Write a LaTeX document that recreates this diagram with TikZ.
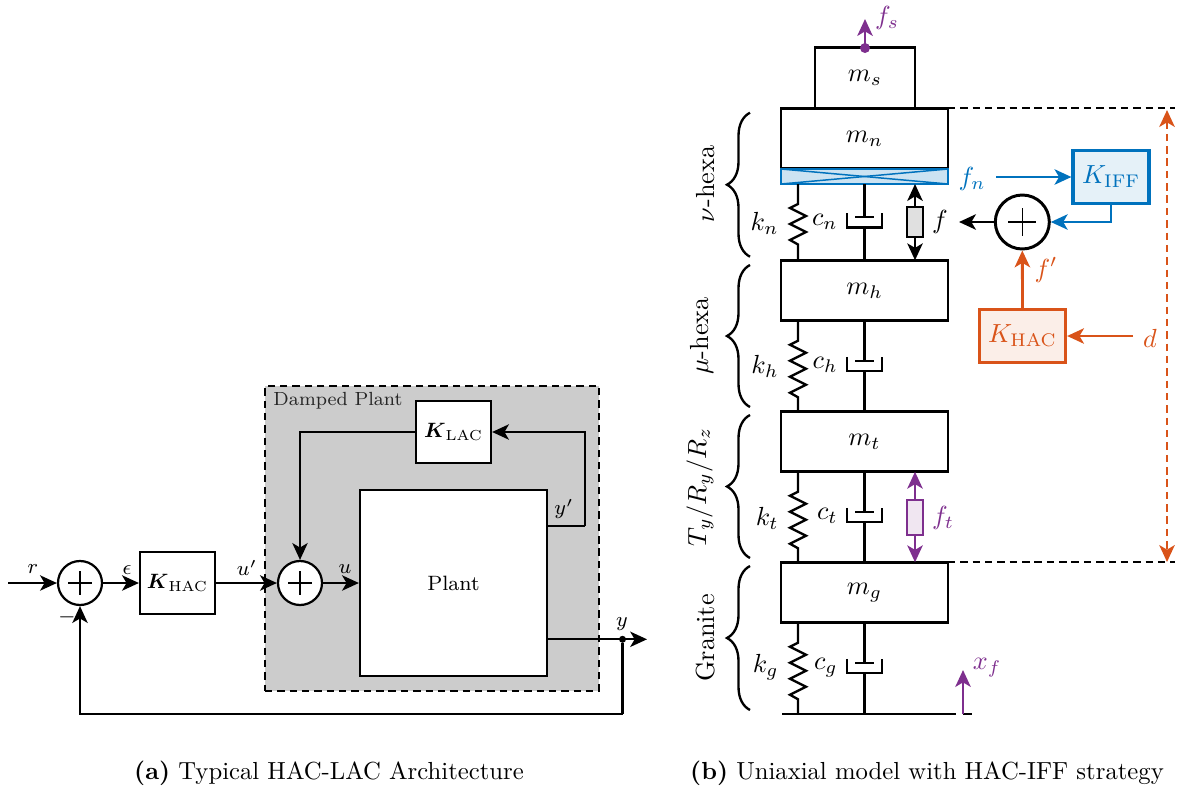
\documentclass[tikz,border=0pt]{standalone}
\usepackage{fix-cm}
\usepackage{amsmath}
\usepackage{amssymb}
\usepackage{xcolor}
\usepackage{tikz}
\usetikzlibrary{positioning,arrows.meta,decorations.pathreplacing}
\definecolor{mblue}{HTML}{0072BD}
\definecolor{morange}{HTML}{D95319}
\definecolor{mpurple}{HTML}{7E2F8E}
\newcommand{\px}{0.405pt}
\newcommand{\petit}{\fontsize{8.4}{10}\selectfont}
\newcommand{\grand}{\fontsize{10.6}{13}\selectfont}
% haut, bas, longueur droite, nombre de dents
\newcommand{\ressort}[4]{\draw[lien] (#1) -- ++(0,#3) -- ++(-8,4)
  \foreach \i in {1,...,#4} { -- ++(16,8) -- ++(-16,8) } -- ++(8,4.5) -- (#2);}
% haut, bas, position du piston
\newcommand{\amortisseur}[3]{
  \draw[lien] (#1) -- ++(0,#3) ++(-9.5,0) -- ++(19,0);
  \draw[lien] (#1) ++(-17.5,#3-4) -- ++(0,14.5) -- ++(35,0) -- ++(0,-14.5);
  \draw[lien] (#1) ++(0,#3+10.5) -- (#2);}
\begin{document}
\begin{tikzpicture}[x=\px,y=-\px]
  \tikzset{
    boite/.style={draw,fill=white,line width=0.9pt,inner sep=0pt,font=\petit},
    masse/.style={draw,fill=white,line width=1.2pt,inner sep=0pt,outer sep=0pt,
      minimum width=167*\px,minimum height=60.5*\px,font=\grand},
    regul/.style={draw=#1,fill=#1!10,line width=1.3pt,inner sep=0pt,text=#1,font=\grand},
    somme/.style={circle,draw,fill=white,inner sep=0pt,
      path picture={
        \draw[line width=0.5pt,shorten >=#1,shorten <=#1]
          (path picture bounding box.west) -- (path picture bounding box.east);
        \draw[line width=0.5pt,shorten >=#1,shorten <=#1]
          (path picture bounding box.north) -- (path picture bounding box.south);
      }},
    verin/.style={draw=#1,line width=1.15pt,inner sep=0pt,
      minimum width=16*\px},
    fleche/.style={-{Stealth[length=6.8pt,width=6.2pt,inset=1.8pt]},line width=0.9pt},
    fleche forte/.style={fleche,line width=1.15pt},
    double forte/.style={{Stealth[length=6.8pt,width=6.2pt,inset=1.8pt]}-{Stealth[length=6.8pt,width=6.2pt,inset=1.8pt]},line width=1.15pt},
    lien/.style={line width=0.95pt},
    tirets/.style={line width=1pt,dash pattern=on 3pt off 2pt},
    accolade/.style={line width=0.95pt,decorate,decoration={brace,amplitude=23*\px}},
    lbl/.style={font=\petit,inner sep=0pt},
    lbd/.style={font=\grand,inner sep=0pt},
    titre/.style={font=\fontsize{10}{12}\selectfont,inner sep=0pt},
  }
  \useasboundingbox (0,0) rectangle (1177,789);

  % HAC-LAC
  \node[draw,fill=black!20,tirets,minimum width=334*\px,minimum height=305*\px,inner sep=0pt] (damped) at (432,538.5) {};
  \node[font=\fontsize{7.7}{9}\selectfont,inner sep=0pt,anchor=west,text=black!85] (dampedlabel) at (273,401) {Damped Plant};
  \node[boite,somme=10*\px,minimum size=44*\px] (s1) at (80,583) {};
  \node[boite,minimum width=75*\px,minimum height=62*\px] (khac) at (177.5,583) {$\boldsymbol{K}_{\text{HAC}}$};
  \node[boite,somme=10*\px,minimum size=44*\px] (s2) at (300,583) {};
  \node[boite,minimum width=187*\px,minimum height=186*\px] (plant) at (453.5,583) {Plant};
  \node[boite,minimum width=75*\px,minimum height=62*\px] (klac) at (453.5,432) {$\boldsymbol{K}_{\text{LAC}}$};
  \node[circle,fill=black,inner sep=0pt,minimum size=7*\px] (jonction) at (622.5,639.3) {};
  \coordinate (entree) at (8,583);
  \coordinate (sortie) at (647,639.3);
  \coordinate (yprime) at (547,526);
  \coordinate (coude) at (585,526);
  \coordinate (retour) at (622.5,714);
  \draw[fleche] (entree) -- (s1.west);
  \draw[fleche] (s1.east) -- (khac.west);
  \draw[fleche] (khac.east) -- (s2.west);
  \draw[fleche] (s2.east) -- (plant.west);
  \draw[lien] (yprime) -- (coude);
  \draw[fleche] (coude) |- (klac.east);
  \draw[fleche] (klac.west) -| (s2.north);
  \draw[fleche] (plant.east |- sortie) -- (sortie);
  \draw[lien] (jonction) -- (retour);
  \draw[fleche] (retour) -| (s1.south);
  \node[lbl] (lr) at (33,569) {$r$};
  \node[lbl] (le) at (127,570) {$\epsilon$};
  \node[lbl] (lup) at (247,568) {$u'$};
  \node[lbl] (lu) at (345,569) {$u$};
  \node[lbl] (lyp) at (564,509) {$y'$};
  \node[lbl] (ly) at (622,624) {$y$};
  \node[lbl] (lm) at (67,617) {$-$};

  % masses
  \node[masse] (mn) at (864.5,138.5) {$m_n$};
  \node[masse,minimum width=100*\px] (ms) at (865,78) {$m_s$};
  \node[draw=mblue,fill=mblue!20,line width=1.2pt,inner sep=0pt,outer sep=0pt,minimum width=167*\px,minimum height=15*\px] (capteur) at (864.5,176.5) {};
  \draw[mblue,line width=0.6pt] (capteur.north west) -- (capteur.south east);
  \draw[mblue,line width=0.6pt] (capteur.south west) -- (capteur.north east);
  \node[masse] (mh) at (864.5,290.5) {$m_h$};
  \node[masse] (mt) at (864.5,441.5) {$m_t$};
  \node[masse] (mg) at (864.5,592.5) {$m_g$};
  \coordinate (kx) at (798,0);
  \coordinate (ax) at (915,0);
  \coordinate (solg) at (782,714);
  \coordinate (sold) at (956,714);
  \coordinate (solb) at (963,714);
  \coordinate (sole) at (972,714);
  \draw[line width=1.15pt] (solg) -- (sold);
  \draw[line width=1.15pt] (solb) -- (sole);

  \ressort{kx |- capteur.south}{kx |- mh.north}{20}{2}
  \ressort{kx |- mh.south}{kx |- mt.north}{20}{3}
  \ressort{kx |- mt.south}{kx |- mg.north}{20}{3}
  \ressort{kx |- mg.south}{kx |- solg}{20}{3}
  \amortisseur{capteur.south}{mh.north}{33}
  \amortisseur{mh.south}{mt.north}{40}
  \amortisseur{mt.south}{mg.north}{40}
  \amortisseur{mg.south}{mg.south |- solg}{40}

  \node[lbd,anchor=east] (kn) at (779,223) {$k_n$};
  \node[lbd,anchor=east] (cn) at (838,222) {$c_n$};
  \node[lbd,anchor=east] (kh) at (779,366) {$k_h$};
  \node[lbd,anchor=east] (ch) at (838,365) {$c_h$};
  \node[lbd,anchor=east] (kt) at (779,518) {$k_t$};
  \node[lbd,anchor=east] (ct) at (838,516) {$c_t$};
  \node[lbd,anchor=east] (kg) at (779,667) {$k_g$};
  \node[lbd,anchor=east] (cg) at (838,668) {$c_g$};

  % verins
  \node[verin=black,fill=black!12,minimum height=30*\px] (vf) at (915,222) {};
  \draw[fleche forte] (vf.north) -- (ax |- capteur.south);
  \draw[fleche forte] (vf.south) -- (ax |- mh.north);
  \node[verin=mpurple,fill=mpurple!12,minimum height=35*\px] (vt) at (915,517.5) {};
  \draw[fleche forte,mpurple] (vt.north) -- (ax |- mt.south);
  \draw[fleche forte,mpurple] (vt.south) -- (ax |- mg.north);
  \node[lbd] (lf) at (940,222) {$f$};
  \node[lbd,text=mpurple] (lft) at (943,518) {$f_t$};

  \node[circle,fill=mpurple,inner sep=0pt,minimum size=10*\px] (ps) at (865,48) {};
  \coordinate (fshaut) at (865,19);
  \draw[fleche forte,mpurple] (ps.center) -- (fshaut);
  \node[lbd,text=mpurple] (lfs) at (887,18) {$f_s$};
  \coordinate (xfhaut) at (963,670);
  \draw[fleche forte,mpurple] (solb) -- (xfhaut);
  \node[lbd,text=mpurple] (lxf) at (987,668) {$x_f$};

  % IFF et HAC
  \node[regul=mblue,minimum width=76*\px,minimum height=53*\px] (kiff) at (1111,177) {$K_{\text{IFF}}$};
  \node[somme=13*\px,fill=white,line width=1.2pt,minimum size=54*\px] (s3) at (1022.3,222) {};
  \node[regul=morange,minimum width=86*\px,minimum height=53*\px] (khac2) at (1022.5,336) {$K_{\text{HAC}}$};
  \node[lbd,text=mblue] (lfn) at (972,179) {$f_n$};
  \node[lbd,text=morange] (lfp) at (1046,270) {$f'$};
  \node[lbd,text=morange] (ld) at (1150,338) {$d$};
  \coordinate (fndebut) at (996,177);
  \coordinate (fsortie) at (959,222);
  \coordinate (ddebut) at (1133,336);
  \draw[fleche forte,mblue] (fndebut) -- (kiff.west);
  \draw[fleche forte,mblue] (kiff.south) |- (s3.east);
  \draw[fleche forte] (s3.west) -- (fsortie);
  \draw[fleche forte,morange] (khac2.north) -- (s3.south);
  \draw[fleche forte,morange] (ddebut) -- (khac2.east);

  \coordinate (dx) at (1175,0);
  \coordinate (dvh) at (1167,110);
  \coordinate (dvb) at (1167,562);
  \draw[tirets] (mn.north east) -- (mn.north east -| dx);
  \draw[tirets] (mg.north east) -- (mg.north east -| dx);
  \draw[double forte,morange,dash pattern=on 3pt off 2pt] (dvh) -- (dvb);

  % accolades
  \draw[accolade] (750,256.7) -- (750,112.7);
  \draw[accolade] (750,407) -- (750,265);
  \draw[accolade] (750,558) -- (750,415);
  \draw[accolade] (750,710) -- (750,566);
  \node[lbd,rotate=90,anchor=base] (lnu) at (714,184) {$\nu$-hexa};
  \node[lbd,rotate=90,anchor=base] (lmu) at (708,336) {$\mu$-hexa};
  \node[lbd,rotate=90,anchor=base] (ltr) at (706,487) {$T_y/R_y/R_z$};
  \node[lbd,rotate=90,anchor=base] (lgr) at (714,638) {Granite};

  \node[titre] (capa) at (329,773) {\textbf{(a)} Typical HAC-LAC Architecture};
  \node[titre] (capb) at (927,773) {\textbf{(b)} Uniaxial model with HAC-IFF strategy};
\end{tikzpicture}
\end{document}
